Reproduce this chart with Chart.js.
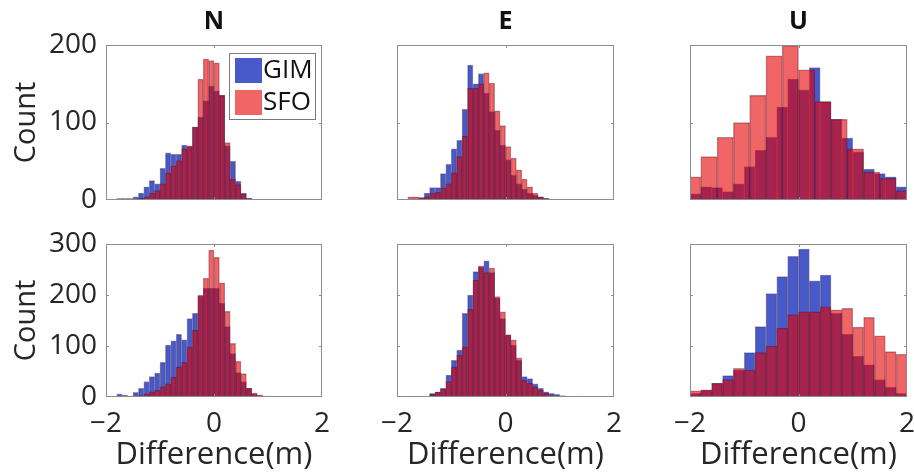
<!DOCTYPE html>
<html>
<head>
<meta charset="utf-8">
<script src="https://cdn.jsdelivr.net/npm/chart.js@4.4.1/dist/chart.umd.min.js"></script>
<style>
  body { margin: 0; background: #fff; width: 914px; height: 473px; position: relative; overflow: hidden; }
  canvas { position: absolute; }
</style>
</head>
<body>
<script>
// tick values
var diffTicks = [-2, 0, 2];
var countTicksTop = [0, 100, 200];
var countTicksBottom = [0, 100, 200, 300];

// histogram bin centres (m)
function binCentres(firstEdge, width, count) {
  var out = [];
  for (var i = 0; i < count; i++) out.push(+(firstEdge + width * (i + 0.5)).toFixed(3));
  return out;
}
var fineBins = binCentres(-2, 0.1, 40);
var midBins = binCentres(-2, 0.2, 20);
var wideBins = binCentres(-2.1, 0.3, 14);

// counts, top row
var nTopGim = [0,0,1,1,2,4,9,17,25,21, 41,61,59,59,71,69,94,107,128,147, 141,135,70,50,24,9,2,1,1,0, 1,0,0,0,0,0,0,0,0,0];
var nTopSfo = [0,0,2,2,1,1,2,4,9,12, 21,35,44,51,66,70,94,156,182,180, 177,135,74,27,20,8,2,1,1,0, 1,0,0,0,0,0,0,0,0,0];
var eTopGim = [0,0,1,1,3,9,16,16,34,46, 66,77,117,174,150,163,138,114,90,71, 52,32,21,14,9,6,4,2,1,1, 0,0,0,1,0,0,0,0,0,0];
var eTopSfo = [0,1,4,4,3,4,9,10,15,21, 35,56,82,144,144,150,164,151,115,96, 69,54,39,27,17,9,4,2,1,0, 0,0,0,0,0,0,0,0,0,0];
var uTopGim = [8,17,16,11,21,43,64,81,120,156, 142,171,127,104,80,62,40,34,30,17];
var uTopSfo = [30,56,81,100,135,186,199,168,127,104, 66,36,28,12];

// counts, bottom row
var nBotGim = [0,0,6,4,2,9,17,30,40,47, 68,102,110,123,112,154,164,198,213,213, 213,184,138,85,48,30,17,6,3,2, 0,0,0,0,0,0,0,0,0,0];
var nBotSfo = [0,0,2,1,1,2,3,6,10,13, 20,26,39,59,68,98,131,200,233,288, 274,224,168,105,70,46,17,8,4,2, 2,0,0,0,0,0,0,0,0,0];
var eBotGim = [0,0,0,1,1,1,7,10,17,43, 72,92,164,200,246,255,267,244,194,154, 122,102,72,40,36,26,17,10,7,5, 3,0,0,2,0,0,0,0,0,0];
var eBotSfo = [0,0,0,0,1,2,5,9,16,30, 58,82,98,172,229,257,244,253,197,167, 122,112,77,33,27,20,13,7,3,2, 0,0,0,0,0,0,0,0,0,0];
var uBotGim = [7,13,27,42,53,87,138,203,236,276, 290,228,239,164,123,80,63,34,19,7];
var uBotSfo = [12,14,27,34,56,53,87,100,135,161, 167,167,177,171,174,137,156,120,89,84];

var FONT = "'Open Sans', sans-serif";
var TEXT = '#262626';
var GIM_FILL = 'rgba(40,60,190,0.85)';
var SFO_FILL = 'rgba(230,0,0,0.6)';
var EDGE = 'rgba(40,0,30,0.4)';

var panels = [
  { title: 'N', frame: [106, 45, 322, 200], yMax: 200, yTicks: countTicksTop, yMarks: [100], showY: true, showX: false, gim: [fineBins, nTopGim], sfo: [fineBins, nTopSfo], key: true },
  { title: 'E', frame: [397, 45, 614, 200], yMax: 200, yTicks: countTicksTop, yMarks: [100], showY: false, showX: false, gim: [fineBins, eTopGim], sfo: [fineBins, eTopSfo] },
  { title: 'U', frame: [690, 45, 907, 200], yMax: 200, yTicks: countTicksTop, yMarks: [100], showY: false, showX: false, gim: [midBins, uTopGim], sfo: [wideBins, uTopSfo] },
  { title: '', frame: [106, 244, 322, 397], yMax: 300, yTicks: countTicksBottom, yMarks: [100, 200], showY: true, showX: true, gim: [fineBins, nBotGim], sfo: [fineBins, nBotSfo] },
  { title: '', frame: [397, 244, 614, 397], yMax: 300, yTicks: countTicksBottom, yMarks: [100, 200], showY: false, showX: true, gim: [fineBins, eBotGim], sfo: [fineBins, eBotSfo] },
  { title: '', frame: [690, 244, 907, 397], yMax: 300, yTicks: countTicksBottom, yMarks: [100, 200], showY: false, showX: true, gim: [midBins, uBotGim], sfo: [midBins, uBotSfo] }
];

// margins round each frame inside its canvas
var PAD_SIDE = 105, PAD_T = 45, PAD_B = 76, Y_W = 97;

function pairs(xs, ys) {
  return xs.map(function (x, i) { return { x: x, y: ys[i] }; });
}
function fixTicks(vals) {
  return function (scale) { scale.ticks = vals.map(function (v) { return { value: v }; }); };
}
function fmt(v) {
  return v < 0 ? '\u2212' + Math.abs(v) : String(v);
}

// box around the axes with small inward tick marks
var framePlugin = {
  id: 'frame',
  afterDatasetsDraw: function (chart, args, opts) {
    var a = chart.chartArea, ctx = chart.ctx;
    var xs = chart.scales.x, ys = chart.scales.y;
    ctx.save();
    ctx.strokeStyle = '#8c8c8c';
    ctx.lineWidth = 1;
    ctx.strokeRect(a.left + 0.5, a.top + 0.5, a.right - a.left - 1, a.bottom - a.top - 1);
    ctx.beginPath();
    opts.xMarks.forEach(function (v) {
      var px = Math.round(xs.getPixelForValue(v)) + 0.5;
      ctx.moveTo(px, a.bottom); ctx.lineTo(px, a.bottom - 3);
      ctx.moveTo(px, a.top); ctx.lineTo(px, a.top + 3);
    });
    opts.yMarks.forEach(function (v) {
      var py = Math.round(ys.getPixelForValue(v)) + 0.5;
      ctx.moveTo(a.left, py); ctx.lineTo(a.left + 3, py);
      ctx.moveTo(a.right, py); ctx.lineTo(a.right - 3, py);
    });
    ctx.stroke();
    ctx.restore();
  }
};

// legend box inside the first panel
var keyPlugin = {
  id: 'keyBox',
  afterDraw: function (chart, args, opts) {
    if (!opts.show) return;
    var a = chart.chartArea, ctx = chart.ctx;
    var bx = a.right - 93, by = a.top + 8, bw = 87, bh = 67;
    ctx.save();
    ctx.fillStyle = '#fff';
    ctx.fillRect(bx, by, bw, bh);
    ctx.strokeStyle = '#7a7a7a';
    ctx.lineWidth = 1;
    ctx.strokeRect(bx + 0.5, by + 0.5, bw - 1, bh - 1);
    ctx.font = '26px ' + FONT;
    ctx.textBaseline = 'middle';
    ctx.textAlign = 'left';
    chart.data.datasets.forEach(function (ds, i) {
      var sy = by + 5 + i * 32;
      ctx.fillStyle = ds.backgroundColor;
      ctx.fillRect(bx + 6, sy, 27, 25);
      ctx.fillStyle = '#111';
      ctx.fillText(ds.label, bx + 34, sy + 13);
    });
    ctx.restore();
  }
};

panels.forEach(function (p) {
  var L = p.frame[0], T = p.frame[1], R = p.frame[2], B = p.frame[3];
  var cv = document.createElement('canvas');
  cv.width = R - L + 2 * PAD_SIDE;
  cv.height = B - T + PAD_T + PAD_B;
  cv.style.left = (L - PAD_SIDE) + 'px';
  cv.style.top = (T - PAD_T) + 'px';
  document.body.appendChild(cv);

  new Chart(cv.getContext('2d'), {
    type: 'bar',
    data: {
      datasets: [
        { label: 'GIM', data: pairs(p.gim[0], p.gim[1]), backgroundColor: GIM_FILL, borderColor: EDGE, borderWidth: 0.8, xAxisID: 'x', order: 2 },
        { label: 'SFO', data: pairs(p.sfo[0], p.sfo[1]), backgroundColor: SFO_FILL, borderColor: EDGE, borderWidth: 0.8, xAxisID: 'x2', order: 1 }
      ]
    },
    options: {
      responsive: false,
      animation: false,
      events: [],
      layout: {
        padding: {
          left: p.showY ? PAD_SIDE - Y_W : PAD_SIDE,
          right: PAD_SIDE,
          top: p.title ? 7 : PAD_T,
          bottom: p.showX ? 0 : PAD_B
        }
      },
      datasets: { bar: { barPercentage: 1, categoryPercentage: 1, grouped: false } },
      plugins: {
        legend: { display: false },
        tooltip: { enabled: false },
        title: {
          display: !!p.title,
          text: p.title,
          fullSize: false,
          color: '#111',
          font: { family: FONT, size: 25, weight: 'bold' },
          padding: { top: 0, bottom: 8 }
        },
        frame: { xMarks: [0], yMarks: p.yMarks },
        keyBox: { show: !!p.key }
      },
      scales: {
        x: {
          type: 'linear', min: -2, max: 2, offset: false, display: p.showX,
          afterBuildTicks: fixTicks(diffTicks),
          afterFit: function (s) {
            if (s.options.display) s.height = PAD_B;
            s.paddingLeft = 0; s.paddingRight = 0;
          },
          grid: { display: false, drawTicks: false },
          border: { display: false },
          ticks: { color: TEXT, font: { family: FONT, size: 28 }, padding: 10, maxRotation: 0, autoSkip: false, callback: fmt },
          title: { display: true, text: 'Difference(m)', color: TEXT, font: { family: FONT, size: 31 }, padding: { top: 0, bottom: -1 } }
        },
        x2: {
          type: 'linear', min: -2, max: 2, offset: false, display: false,
          afterBuildTicks: fixTicks(diffTicks)
        },
        y: {
          type: 'linear', min: 0, max: p.yMax, display: p.showY,
          afterBuildTicks: fixTicks(p.yTicks),
          afterFit: function (s) {
            if (s.options.display) s.width = Y_W;
            s.paddingTop = 0; s.paddingBottom = 0;
          },
          grid: { display: false, drawTicks: false },
          border: { display: false },
          ticks: { color: TEXT, font: { family: FONT, size: 28 }, padding: 9, callback: fmt },
          title: { display: true, text: 'Count', color: TEXT, font: { family: FONT, size: 29 }, padding: 0 }
        }
      }
    },
    plugins: [framePlugin, keyPlugin]
  });
});
</script>
</body>
</html>
